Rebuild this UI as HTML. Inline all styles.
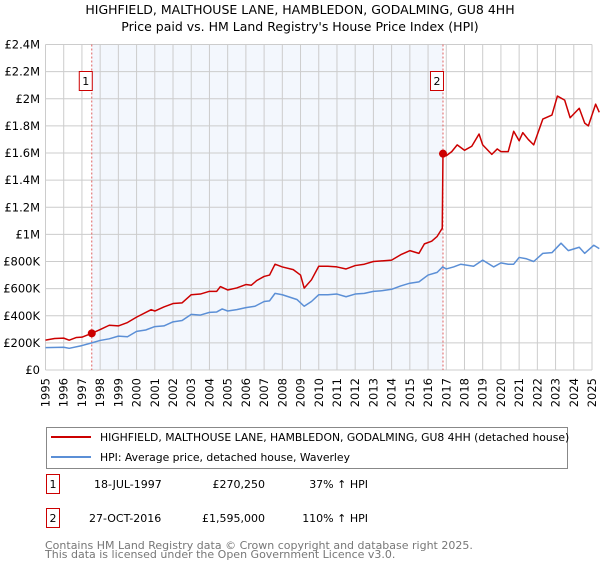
<!DOCTYPE html>
<html><head><meta charset="utf-8"><style>
body{margin:0;background:#fff;font-family:"Liberation Sans","DejaVu Sans",sans-serif;}
svg text{font-family:"DejaVu Sans","Liberation Sans",sans-serif;}
</style></head><body>
<svg id="c" width="600" height="560" xmlns="http://www.w3.org/2000/svg">
<text x="300" y="14" text-anchor="middle" font-size="12.5">HIGHFIELD, MALTHOUSE LANE, HAMBLEDON, GODALMING, GU8 4HH</text>
<text x="300" y="31" text-anchor="middle" font-size="12.5">Price paid vs. HM Land Registry's House Price Index (HPI)</text>
<g id="plot"></g>
<g>
<rect x="46.5" y="427.5" width="521" height="41" fill="#fff" stroke="#888"/>
<line x1="51" y1="437" x2="91" y2="437" stroke="#cc0000" stroke-width="2"/>
<text x="100" y="441" font-size="10.8">HIGHFIELD, MALTHOUSE LANE, HAMBLEDON, GODALMING, GU8 4HH (detached house)</text>
<line x1="51" y1="457" x2="91" y2="457" stroke="#5b8fd6" stroke-width="2"/>
<text x="100" y="461" font-size="10.8">HPI: Average price, detached house, Waverley</text>
</g>
<g>
<rect x="46.5" y="474.5" width="13" height="19" fill="#fff" stroke="#cc0000"/>
<text x="53" y="488" font-size="11" text-anchor="middle">1</text>
<text x="94" y="488" font-size="11">18-JUL-1997</text>
<text x="265" y="488" font-size="11" text-anchor="end">£270,250</text>
<text x="368" y="488" font-size="11" text-anchor="end">37% ↑ HPI</text>
<rect x="46.5" y="508.5" width="13" height="19" fill="#fff" stroke="#cc0000"/>
<text x="53" y="522" font-size="11" text-anchor="middle">2</text>
<text x="89" y="522" font-size="11">27-OCT-2016</text>
<text x="265" y="522" font-size="11" text-anchor="end">£1,595,000</text>
<text x="368" y="522" font-size="11" text-anchor="end">110% ↑ HPI</text>
</g>
<text x="45" y="549" font-size="11" fill="#777">Contains HM Land Registry data © Crown copyright and database right 2025.</text>
<text x="45" y="558" font-size="11" fill="#777">This data is licensed under the Open Government Licence v3.0.</text>
</svg>
<script>
const yTicks=[0,200000,400000,600000,800000,1000000,1200000,1400000,1600000,1800000,2000000,2200000,2400000];
const yTickLabels=["£0","£200K","£400K","£600K","£800K","£1M","£1.2M","£1.4M","£1.6M","£1.8M","£2M","£2.2M","£2.4M"];
const xYears=[1995,1996,1997,1998,1999,2000,2001,2002,2003,2004,2005,2006,2007,2008,2009,2010,2011,2012,2013,2014,2015,2016,2017,2018,2019,2020,2021,2022,2023,2024,2025];
const redT=[1995,1995.5,1996,1996.3,1996.7,1997,1997.54,1998,1998.5,1999,1999.5,2000,2000.8,2001,2001.5,2002,2002.5,2003,2003.5,2004,2004.4,2004.6,2005,2005.5,2006,2006.3,2006.6,2007,2007.3,2007.6,2008,2008.6,2009,2009.2,2009.6,2010,2010.5,2011,2011.5,2012,2012.5,2013,2013.5,2014,2014.5,2015,2015.5,2015.8,2016.2,2016.5,2016.78,2016.82,2017,2017.3,2017.6,2018,2018.4,2018.8,2019,2019.5,2019.8,2020,2020.4,2020.7,2021,2021.2,2021.5,2021.8,2022.3,2022.8,2023.1,2023.5,2023.8,2024.3,2024.6,2024.8,2025.2,2025.4];
const redV=[220000,232000,235000,220000,240000,242000,270250,298000,330000,325000,350000,390000,445000,435000,465000,490000,495000,555000,560000,580000,580000,615000,590000,605000,630000,625000,660000,690000,700000,780000,760000,740000,700000,604000,665000,765000,765000,760000,745000,770000,780000,800000,805000,810000,850000,880000,860000,930000,950000,985000,1045000,1595000,1580000,1610000,1660000,1620000,1650000,1740000,1660000,1590000,1630000,1610000,1610000,1760000,1690000,1750000,1700000,1660000,1850000,1880000,2020000,1990000,1860000,1930000,1820000,1800000,1960000,1900000];
const blueT=[1995,1996,1996.3,1997,1997.54,1998,1998.5,1999,1999.5,2000,2000.5,2001,2001.5,2002,2002.5,2003,2003.5,2004,2004.4,2004.7,2005,2005.5,2006,2006.5,2007,2007.3,2007.6,2008,2008.8,2009.2,2009.6,2010,2010.5,2011,2011.5,2012,2012.5,2013,2013.5,2014,2014.5,2015,2015.5,2016,2016.5,2016.8,2017,2017.4,2017.8,2018.5,2019,2019.6,2020,2020.4,2020.7,2021,2021.4,2021.8,2022.3,2022.8,2023.3,2023.7,2024.3,2024.6,2025.1,2025.4];
const blueV=[165000,168000,160000,180000,200000,218000,230000,250000,245000,285000,295000,320000,325000,355000,365000,410000,405000,425000,428000,450000,435000,445000,460000,470000,505000,510000,565000,555000,520000,470000,505000,555000,555000,560000,540000,560000,565000,580000,585000,595000,620000,640000,650000,700000,720000,760000,745000,760000,780000,765000,810000,760000,790000,780000,780000,830000,820000,800000,860000,865000,935000,880000,905000,860000,920000,895000];
const sales=[[1997.54,270250],[2016.82,1595000]];
const L=45.5,R=592,T=44.5,B=370;
const xs=t=>L+(t-1995)/30*(R-L);
const ys=v=>B-v/2400000*(B-T);
const NS="http://www.w3.org/2000/svg";
const g=document.getElementById('plot');
function mk(tag,a,p){const e=document.createElementNS(NS,tag);for(const k in a)e.setAttribute(k,a[k]);(p||g).appendChild(e);return e;}
const sh=mk('rect',{x:xs(sales[0][0]),y:T,width:xs(sales[1][0])-xs(sales[0][0]),height:B-T,fill:'#eef3fc',opacity:0.7});


xYears.forEach(y=>{const l=mk('line',{x1:xs(y),x2:xs(y),y1:T,y2:B,stroke:'#ccc','stroke-width':1});


const t=mk('text',{x:0,y:0,'font-size':11.5,'text-anchor':'end',transform:`translate(${xs(y)+4},${B+8}) rotate(-90)`});t.textContent=y;

});
yTicks.forEach((v,i)=>{const l=mk('line',{x1:L,x2:R,y1:ys(v),y2:ys(v),stroke:'#ccc','stroke-width':1});


const t=mk('text',{x:40,y:ys(v)+4,'font-size':11.5,'text-anchor':'end'});t.textContent=yTickLabels[i];

});
sales.forEach((s,i)=>{const l=mk('line',{x1:xs(s[0]),x2:xs(s[0]),y1:T,y2:B,stroke:'#e06060','stroke-dasharray':'2,2','stroke-width':1});


const bx=xs(s[0])-12.5;
const r=mk('rect',{x:bx,y:71.5,width:13,height:19,fill:'#fff',stroke:'#cc0000'});


const t=mk('text',{x:bx+6.5,y:85,'font-size':11,'text-anchor':'middle'});t.textContent=i+1;

});
function line(T_,V,col,name){const p=mk('polyline',{points:T_.map((t,i)=>xs(t)+','+ys(V[i])).join(' '),fill:'none',stroke:col,'stroke-width':1.5,'stroke-linejoin':'round'});

}
line(blueT,blueV,'#5b8fd6','hpi-line');
line(redT,redV,'#cc0000','price-paid-line');
sales.forEach(s=>{const c=mk('circle',{cx:xs(s[0]),cy:ys(s[1]),r:4,fill:'#cc0000'});

});
</script>
</body></html>
